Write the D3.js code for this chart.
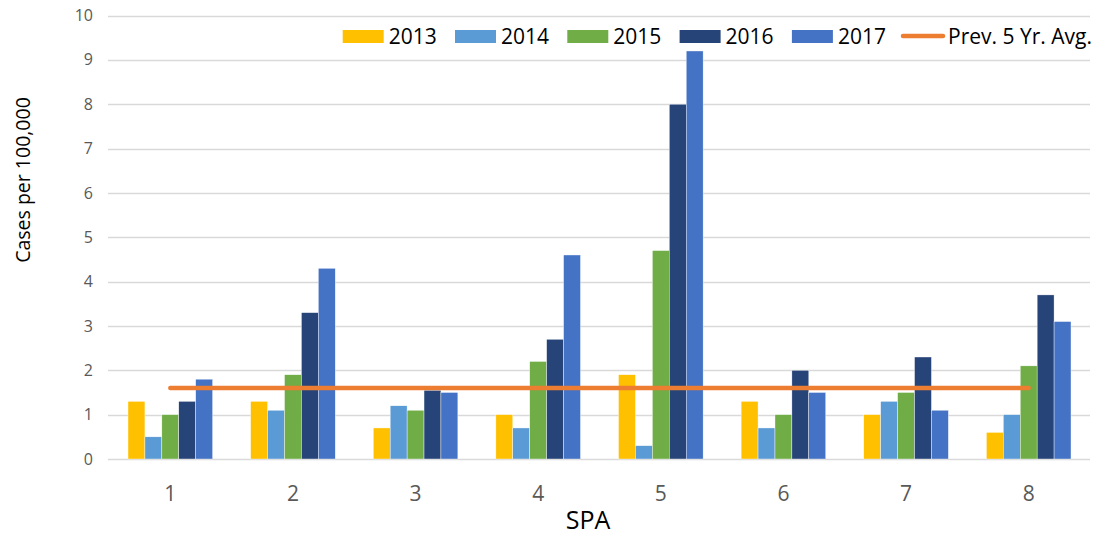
<!DOCTYPE html>
<html>
<head>
<meta charset="utf-8">
<script src="https://cdn.jsdelivr.net/npm/d3@7"></script>
<style>
  body { margin: 0; background: #fff; }
  text { font-family: "Open Sans", sans-serif; }
</style>
</head>
<body>
<div id="chart"></div>
<script>
(function() {
var WIDTH = 1099;
var HEIGHT = 537;

var spas = ['1', '2', '3', '4', '5', '6', '7', '8'];
var years = ['2013', '2014', '2015', '2016', '2017'];
var colors = ['#FFC000', '#5B9BD5', '#70AD47', '#264478', '#4472C4'];
var v2013 = [1.3, 1.3, 0.7, 1.0, 1.9, 1.3, 1.0, 0.6];
var v2014 = [0.5, 1.1, 1.2, 0.7, 0.3, 0.7, 1.3, 1.0];
var v2015 = [1.0, 1.9, 1.1, 2.2, 4.7, 1.0, 1.5, 2.1];
var v2016 = [1.3, 3.3, 1.55, 2.7, 8.0, 2.0, 2.3, 3.7];
var v2017 = [1.8, 4.3, 1.5, 4.6, 9.2, 1.5, 1.1, 3.1];
var avgValues = [1.6, 1.6, 1.6, 1.6, 1.6, 1.6, 1.6, 1.6];
var avgLabel = 'Prev. 5 Yr. Avg.';
var yTicks = [0, 1, 2, 3, 4, 5, 6, 7, 8, 9, 10];

var series = [v2013, v2014, v2015, v2016, v2017];

var svg = d3.select('#chart').append('svg')
  .attr('width', WIDTH)
  .attr('height', HEIGHT);

var x0 = d3.scaleBand()
  .domain(spas)
  .range([109, 1090])
  .paddingInner(0.31)
  .paddingOuter(0.155);

var x1 = d3.scaleBand()
  .domain(years)
  .range([0, x0.bandwidth()]);

var y = d3.scaleLinear()
  .domain([0, 10])
  .range([459, 15.5]);

// gridlines
svg.append('g')
  .selectAll('line')
  .data(yTicks)
  .enter().append('line')
  .attr('x1', 108)
  .attr('x2', 1090)
  .attr('y1', function(d) { return Math.round(y(d)) + 0.5; })
  .attr('y2', function(d) { return Math.round(y(d)) + 0.5; })
  .attr('stroke', '#d9d9d9')
  .attr('stroke-width', 1.3);

// y tick labels
svg.append('g')
  .selectAll('text')
  .data(yTicks)
  .enter().append('text')
  .attr('x', 93)
  .attr('y', function(d) { return y(d); })
  .attr('dy', '0.35em')
  .attr('text-anchor', 'end')
  .attr('font-size', 16)
  .attr('fill', '#595959')
  .text(function(d) { return d; });

// bars
years.forEach(function(yr, k) {
  svg.append('g')
    .selectAll('rect')
    .data(series[k])
    .enter().append('rect')
    .attr('x', function(d, i) { return x0(spas[i]) + x1(yr); })
    .attr('y', function(d) { return y(d); })
    .attr('width', x1.bandwidth())
    .attr('height', function(d) { return y(0) - y(d); })
    .attr('fill', colors[k])
    .attr('stroke', '#fff')
    .attr('stroke-width', 0.4);
});

// average line
var line = d3.line()
  .x(function(d, i) { return x0(spas[i]) + x0.bandwidth() / 2; })
  .y(function(d) { return y(d); });

svg.append('path')
  .datum(avgValues)
  .attr('d', line)
  .attr('fill', 'none')
  .attr('stroke', '#ED7D31')
  .attr('stroke-width', 4.5)
  .attr('stroke-linecap', 'round');

// x tick labels
svg.append('g')
  .selectAll('text')
  .data(spas)
  .enter().append('text')
  .attr('x', function(d) { return x0(d) + x0.bandwidth() / 2; })
  .attr('y', 501)
  .attr('text-anchor', 'middle')
  .attr('font-size', 21)
  .attr('fill', '#595959')
  .text(function(d) { return d; });

// axis titles
svg.append('text')
  .attr('x', 588)
  .attr('y', 529)
  .attr('text-anchor', 'middle')
  .attr('font-size', 25)
  .attr('fill', '#000')
  .text('SPA');

svg.append('text')
  .attr('transform', 'translate(30,180) rotate(-90)')
  .attr('text-anchor', 'middle')
  .attr('font-size', 19.5)
  .attr('fill', '#000')
  .text('Cases per 100,000');

// legend
var legend = svg.append('g');
years.forEach(function(yr, k) {
  var lx = 342.7 + k * 112.3;
  legend.append('rect')
    .attr('x', lx)
    .attr('y', 30)
    .attr('width', 41)
    .attr('height', 13)
    .attr('fill', colors[k]);
  legend.append('text')
    .attr('x', lx + 46)
    .attr('y', 44)
    .attr('font-size', 21)
    .attr('fill', '#000')
    .text(yr);
});
legend.append('line')
  .attr('x1', 903)
  .attr('x2', 943)
  .attr('y1', 36)
  .attr('y2', 36)
  .attr('stroke', '#ED7D31')
  .attr('stroke-width', 4.5)
  .attr('stroke-linecap', 'round');
legend.append('text')
  .attr('x', 948)
  .attr('y', 44)
  .attr('font-size', 21)
  .attr('fill', '#000')
  .attr('textLength', 144)
  .attr('lengthAdjust', 'spacingAndGlyphs')
  .text(avgLabel);
})();
</script>
</body>
</html>
